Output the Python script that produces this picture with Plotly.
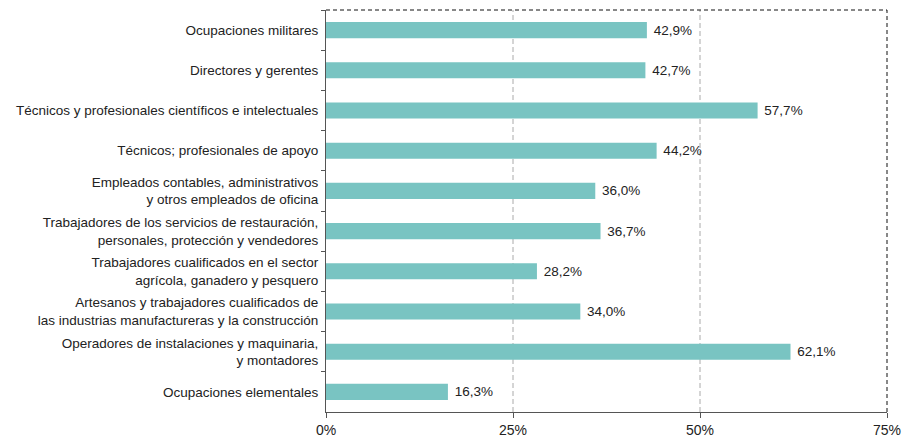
import plotly.graph_objects as go

categories = [
    "Ocupaciones militares",
    "Directores y gerentes",
    "Técnicos y profesionales científicos e intelectuales",
    "Técnicos; profesionales de apoyo",
    "Empleados contables, administrativos<br>y otros empleados de oficina",
    "Trabajadores de los servicios de restauración,<br>personales, protección y vendedores",
    "Trabajadores cualificados en el sector<br>agrícola, ganadero y pesquero",
    "Artesanos y trabajadores cualificados de<br>las industrias manufactureras y la construcción",
    "Operadores de instalaciones y maquinaria,<br>y montadores",
    "Ocupaciones elementales",
]
values = [42.9, 42.7, 57.7, 44.2, 36.0, 36.7, 28.2, 34.0, 62.1, 16.3]
x_ticks = [0, 25, 50, 75]
x_tick_labels = ["0%", "25%", "50%", "75%"]

fig = go.Figure(go.Bar(
    x=values, y=categories, orientation="h",
    marker=dict(color="#79c4c2", line=dict(width=0)),
    texttemplate=" %{x:.1f}%", textposition="outside",
    textfont=dict(size=13.5, color="#222"), cliponaxis=False,
))

fig.update_layout(
    width=916, height=430,
    margin=dict(l=318, r=37, t=2, b=26),
    plot_bgcolor="white", paper_bgcolor="white",
    separators=",.",
    bargap=0.6,
    showlegend=False,
    font=dict(family="Liberation Sans, Arial, sans-serif", size=13.5, color="#222"),
    xaxis=dict(
        range=[0, 75], tickmode="array", tickvals=x_ticks, ticktext=x_tick_labels,
        showgrid=False, zeroline=False, automargin=False,
        showline=True, linecolor="#555", linewidth=1,
        ticks="outside", ticklen=5, tickcolor="#555",
        tickfont=dict(size=14),
    ),
    yaxis=dict(
        autorange="reversed", showgrid=False, zeroline=False, automargin=False,
        showline=True, linecolor="#555", linewidth=1,
        ticks="outside", ticklen=4, tickcolor="#555", tickson="boundaries",
        ticklabelstandoff=4,
    ),
)

for v in [25, 50]:
    fig.add_shape(type="line", xref="x", yref="paper", x0=v, x1=v, y0=0, y1=1,
                  line=dict(color="#aaa", width=1, dash="5px,3px"), layer="below")
fig.add_shape(type="line", xref="paper", yref="paper", x0=0, x1=1, y0=1, y1=1,
              line=dict(color="#111", width=1, dash="4px,3px"))
fig.add_shape(type="line", xref="paper", yref="paper", x0=1, x1=1, y0=0, y1=1,
              line=dict(color="#111", width=1, dash="4px,3px"))

fig.write_html("out.html")
